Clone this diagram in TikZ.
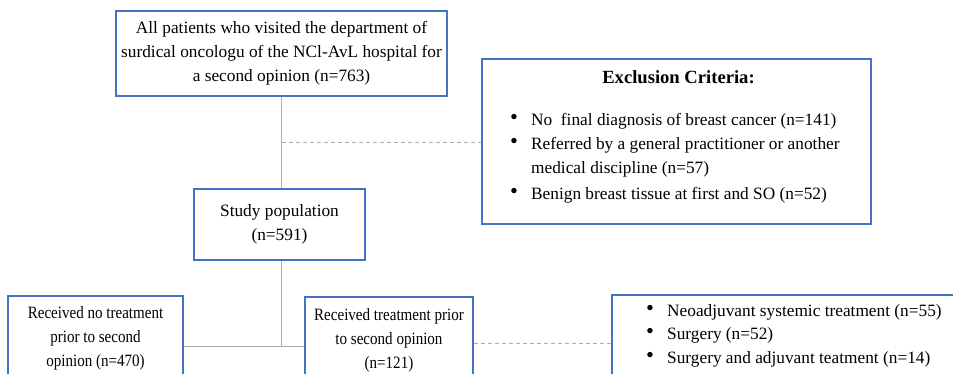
\documentclass[tikz,border=0pt]{standalone}
\usepackage{fontspec}
\usepackage{graphicx}
\setmainfont{Liberation Serif}
\newfontfamily\narrowserif[FakeStretch=0.87]{Liberation Serif}
\definecolor{boxblue}{RGB}{68,114,196}
\definecolor{linegray}{RGB}{175,175,175}
\tikzset{
  box/.style={draw=boxblue, line width=1.4pt, rectangle, inner sep=0pt},
  txt/.style={font=\fontsize{17.3}{24}\selectfont, align=center, inner sep=0pt},
  stxt/.style={font=\narrowserif\fontsize{17.3}{24}\selectfont, align=center, inner sep=0pt},
  itm/.style={font=\fontsize{17.3}{24}\selectfont, anchor=west, inner sep=0pt, text height=12pt, text depth=4pt},
  conn/.style={draw=linegray, line width=1pt},
  dconn/.style={conn, dash pattern=on 4pt off 3pt},
}
\newcommand{\bul}{\makebox[21pt][l]{\raisebox{0.5pt}{\scalebox{1.3}{\textbullet}}}}
\begin{document}
\begin{tikzpicture}[x=1pt,y=-1pt]
\useasboundingbox (0,0) rectangle (953,373);
\clip (0,0) rectangle (953,373);
% boxes
\node[box, txt, minimum width=331pt, minimum height=85pt] (top) at (281.5,53.5)
  {All patients who visited the department of\\surdical oncologu of the NCl-AvL hospital for\\a second opinion (n=763)};
\node[box, minimum width=389pt, minimum height=165pt] (excl) at (676.5,141.5) {};
\node[box, txt, minimum width=171pt, minimum height=71pt] (study) at (279.5,224.5)
  {Study population\\(n=591)};
\node[box, minimum width=175pt, minimum height=104pt] (left) at (95.5,348) {};
\node[box, minimum width=168pt, minimum height=103pt] (mid) at (389,348.5) {};
\node[box, minimum width=363pt, minimum height=105pt] (right) at (793.5,347.5) {};
% texts
\node[txt, font=\fontsize{18.6}{24}\selectfont\bfseries] (exT) at (678.5,77) {Exclusion Criteria:};
\node[itm] (e1) at (510,121) {\bul No\ \ final diagnosis of breast cancer (n=141)};
\node[itm] (e2) at (510,145) {\bul Referred by a general practitioner or another};
\node[itm] (e2b) at (531,169) {medical discipline (n=57)};
\node[itm] (e3) at (510,195) {\bul Benign breast tissue at first and SO (n=52)};
\node[stxt] (lt) at (95.5,338) {Received no treatment\\prior to second\\opinion (n=470)};
\node[stxt] (mt) at (389,340) {Received treatment prior\\to second opinion\\(n=121)};
\node[itm] (r1) at (646,312) {\bul Neoadjuvant systemic treatment (n=55)};
\node[itm] (r2) at (646,335) {\bul Surgery (n=52)};
\node[itm] (r3) at (646,359) {\bul Surgery and adjuvant teatment (n=14)};
% connectors
\coordinate (dj) at (281.5,142);
\coordinate (j) at (281.5,346);
\coordinate (k) at (473,343);
\draw[conn] (top.south) -- (top.south |- study.north);
\draw[dconn] (dj) -- (dj -| excl.west);
\draw[conn] (j |- study.south) -- (j);
\draw[conn] (left.east |- j) -- (mid.west |- j);
\draw[dconn] (mid.east |- k) -- (right.west |- k);
\end{tikzpicture}
\end{document}
